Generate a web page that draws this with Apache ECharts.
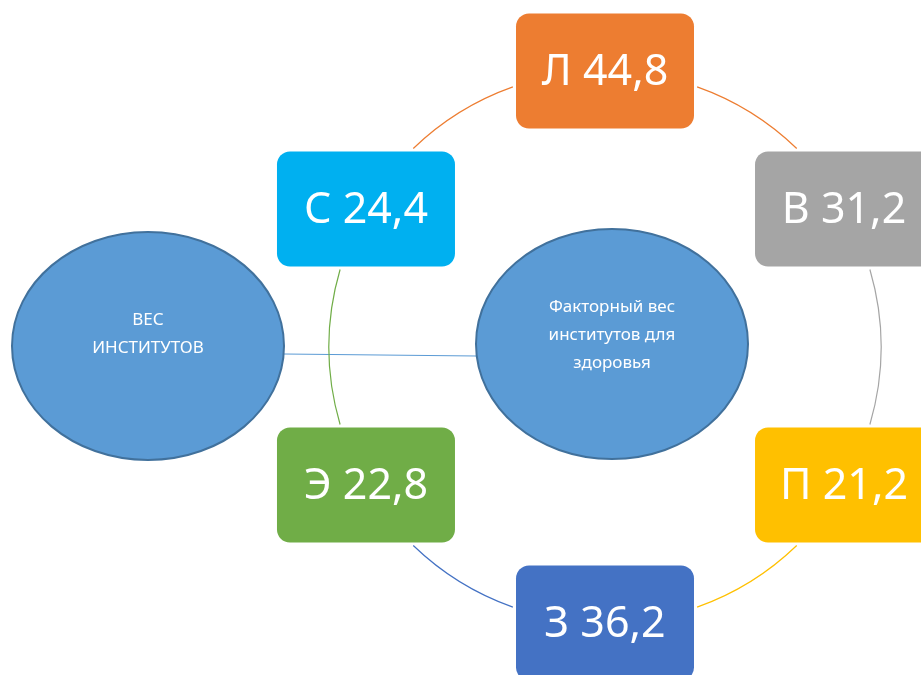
<!DOCTYPE html>
<html>
<head>
<meta charset="utf-8">
<script src="https://cdn.jsdelivr.net/npm/echarts@6/dist/echarts.min.js"></script>
<style>
html,body{margin:0;padding:0;background:#fff;}
#chart{width:921px;height:675px;}
</style>
</head>
<body>
<div id="chart"></div>
<script>
// ---- data ----
const labels = ['Л', 'В', 'П', 'З', 'Э', 'С'];
const values = [44.8, 31.2, 21.2, 36.2, 22.8, 24.4];
const boxColors = ['#ED7D31', '#A5A5A5', '#FFC000', '#4472C4', '#70AD47', '#00B0F0'];
const arcColors = ['#ED7D31', '#A5A5A5', '#FFC000', '#4472C4', '#70AD47', '#ED7D31'];
const hubText = ['Факторный вес', 'институтов для', 'здоровья'];
const sideText = ['ВЕС', 'ИНСТИТУТОВ'];

// ---- layout / style ----
const FONT = '"Noto Sans", "DejaVu Sans", sans-serif';
const BOX_W = 178, BOX_H = 115, BOX_R = 13, GAP = 3;
const step = 360 / labels.length;

const chart = echarts.init(document.getElementById('chart'), null, {renderer: 'canvas'});

function fmt(v) { return v.toFixed(1).replace('.', ','); }

function inBox(px, py, bx, by) {
  return Math.abs(px - bx) <= BOX_W / 2 + GAP && Math.abs(py - by) <= BOX_H / 2 + GAP;
}

const nodeData = labels.map((l, i) => [1, i * step, i]);
const arcData = labels.map((l, i) => [1, i * step, i]);

const option = {
  animation: false,
  backgroundColor: '#ffffff',
  polar: {center: [605, 347], radius: 276},
  angleAxis: {type: 'value', min: 0, max: 360, startAngle: 90, clockwise: true, show: false},
  radiusAxis: {type: 'value', min: 0, max: 1, show: false},
  graphic: [
    {type: 'line', z: 1, shape: {x1: 284, y1: 354, x2: 476, y2: 356}, style: {stroke: '#5B9BD5', lineWidth: 1}},
    {type: 'ellipse', z: 2, shape: {cx: 148, cy: 346, rx: 136, ry: 114}, style: {fill: '#5B9BD5', stroke: '#41719C', lineWidth: 2}},
    {type: 'text', z: 3, x: 148, y: 334, style: {text: sideText.join('\n'), fill: '#fff', font: '17px ' + FONT, align: 'center', verticalAlign: 'middle', lineHeight: 28}},
    {type: 'ellipse', z: 2, shape: {cx: 612, cy: 344, rx: 136, ry: 115}, style: {fill: '#5B9BD5', stroke: '#41719C', lineWidth: 2}},
    {type: 'text', z: 3, x: 612, y: 335, style: {text: hubText.join('\n'), fill: '#fff', font: '17px ' + FONT, align: 'center', verticalAlign: 'middle', lineHeight: 28}}
  ],
  series: [
    {
      type: 'custom',
      coordinateSystem: 'polar',
      z: 1,
      silent: true,
      data: arcData,
      renderItem: function (params, api) {
        const i = api.value(2);
        const a0 = api.value(1);
        const a1 = a0 + step;
        const c = api.coord([0, 0]);
        const p0 = api.coord([1, a0]);
        const p1 = api.coord([1, a1 % 360]);
        const r = Math.hypot(p0[0] - c[0], p0[1] - c[1]);
        const pt = (t) => {
          const rad = t * Math.PI / 180;
          return [c[0] + r * Math.sin(rad), c[1] - r * Math.cos(rad)];
        };
        let s = a0;
        while (s < a1) { const q = pt(s); if (!inBox(q[0], q[1], p0[0], p0[1])) break; s += 0.05; }
        let e = a1;
        while (e > s) { const q = pt(e); if (!inBox(q[0], q[1], p1[0], p1[1])) break; e -= 0.05; }
        return {
          type: 'arc',
          shape: {cx: c[0], cy: c[1], r: r, startAngle: (s - 90) * Math.PI / 180, endAngle: (e - 90) * Math.PI / 180, clockwise: true},
          style: {stroke: arcColors[i], fill: null, lineWidth: 1.2}
        };
      }
    },
    {
      type: 'custom',
      coordinateSystem: 'polar',
      z: 5,
      silent: true,
      data: nodeData,
      renderItem: function (params, api) {
        const i = api.value(2);
        const p = api.coord([api.value(0), api.value(1)]);
        return {
          type: 'group',
          children: [
            {type: 'rect', shape: {x: p[0] - BOX_W / 2, y: p[1] - BOX_H / 2, width: BOX_W, height: BOX_H, r: BOX_R}, style: {fill: boxColors[i]}},
            {type: 'text', x: p[0], y: p[1] + 2, style: {text: labels[i] + ' ' + fmt(values[i]), fill: '#fff', font: '43px ' + FONT, align: 'center', verticalAlign: 'middle'}}
          ]
        };
      }
    }
  ]
};
chart.setOption(option);
</script>
</body>
</html>
